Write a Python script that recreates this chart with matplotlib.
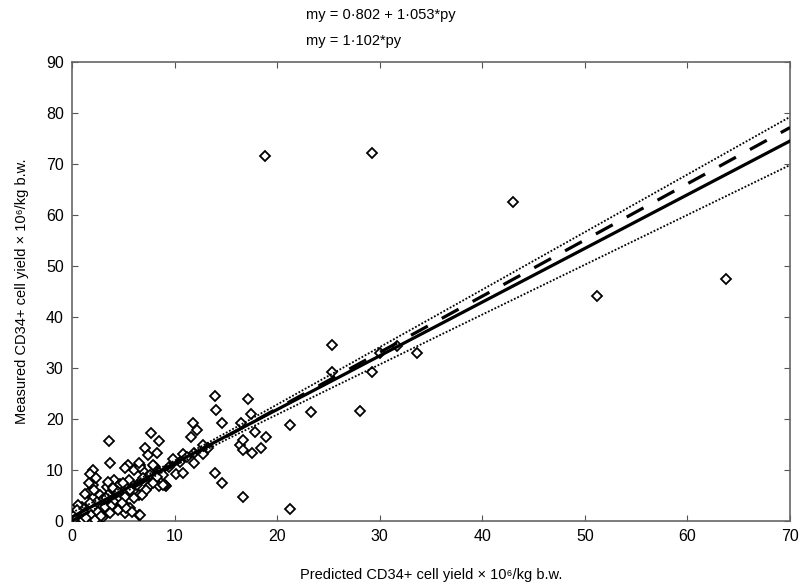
import numpy as np
import matplotlib.pyplot as plt

plt.rcParams['font.family'] = ['Liberation Sans', 'DejaVu Sans']

# Predicted vs measured CD34+ yield (x 10^6/kg b.w.)
predicted = [
    18.8, 29.2, 43.0, 51.2, 63.8,
    25.3, 25.3, 30.0, 29.2, 33.6, 31.7, 28.1, 23.3, 21.3,
    13.9, 14.0, 17.2, 17.45, 14.6, 16.5, 11.8, 12.15, 17.8, 18.9, 11.6,
    7.7, 8.5, 3.6, 7.1, 7.4, 8.3, 12.8, 11.9, 3.7, 2.0, 5.5, 6.6, 6.0, 6.95,
    8.1, 10.1, 10.8, 11.9, 13.9, 14.6, 2.0, 1.6, 2.1, 3.4, 4.1, 4.7, 5.6,
    2.7, 3.6, 4.6, 5.65, 5.2, 6.5, 7.5, 8.5, 9.2, 6.5, 7.2,
    16.7, 21.25, 6.6, 8.0, 9.1, 6.8, 8.9, 12.8, 16.4, 18.4, 17.5, 16.7, 10.85,
    13.3, 16.7,
    1.75, 2.3, 1.66, 1.3, 3.5, 4.0, 4.5, 3.5, 2.9, 2.4, 1.75, 0.95, 0.46,
    0.8, 1.27, 1.9, 2.56, 3.2, 3.9, 4.2, 4.7, 3.05, 3.7, 4.5, 5.0, 0.3,
    1.1, 2.2, 0.6,
    6.5, 7.9, 5.2, 5.0, 5.65, 6.3, 6.95, 7.6, 8.25, 8.9, 5.2, 6.0, 5.3,
    5.8, 6.6, 4.85, 7.9, 9.5, 10.5, 11.2, 9.8, 0.2, 0.5, 1.4, 2.8, 3.3,
]
measured = [
    71.5, 72.1, 62.6, 44.1, 47.5,
    34.5, 29.3, 33.0, 29.3, 33.0, 34.3, 21.6, 21.4, 18.8,
    24.6, 21.8, 24.0, 20.9, 19.3, 19.3, 19.2, 17.8, 17.5, 16.5, 16.4,
    17.3, 15.7, 15.7, 14.25, 12.9, 13.3, 14.9, 13.3, 11.4, 10.0, 11.0, 11.0, 10.0, 9.9,
    10.5, 9.15, 9.35, 11.4, 9.35, 7.4, 7.06, 5.4, 6.1, 6.7, 8.0, 7.25, 8.0,
    5.1, 4.8, 2.9, 2.5, 1.5, 1.2, 6.9, 6.9, 6.9, 5.1, 6.1,
    4.8, 2.35, 10.6, 10.8, 7.06, 5.1, 9.0, 13.1, 14.9, 14.4, 13.3, 15.9, 13.1,
    14.25, 13.9,
    9.2, 8.4, 7.4, 5.3, 7.7, 6.4, 5.75, 5.1, 4.1, 3.8, 3.5, 2.8, 1.8,
    0.85, 1.5, 1.2, 1.8, 2.8, 3.1, 4.1, 4.45, 0.85, 1.5, 2.15, 3.5, 0.5,
    0.2, 0.2, 3.1,
    11.3, 11.0, 10.3, 7.4, 6.1, 7.06, 8.4, 9.0, 8.7, 7.06, 4.8, 4.45, 2.5,
    1.8, 1.2, 3.5, 7.4, 10.5, 11.5, 12.5, 12.2, 1.2, 2.2, 0.6, 0.9, 4.6,
]

# fitted lines from the header
intercept, slope = 0.802, 1.053
slope0 = 1.102
# confidence band of the fit (half width = sqrt(a^2 + (b*(x - xm))^2))
band_a, band_b, band_xm = 0.5, 0.077, 9.0

x = np.linspace(0, 70, 200)
fit = intercept + slope * x
half = np.sqrt(band_a ** 2 + (band_b * (x - band_xm)) ** 2)

fig = plt.figure(figsize=(8.01, 5.83), dpi=100)
ax = fig.add_axes([0.0899, 0.1063, 0.8964, 0.7874])

ax.plot(predicted, measured, linestyle='none', marker='D', markersize=5.6,
        markerfacecolor='white', markeredgecolor='black', markeredgewidth=1.3, zorder=3)
ax.plot(x, fit, color='black', linewidth=2.3, zorder=4)
ax.plot(x, slope0 * x, color='black', linewidth=2.3, dashes=(6, 5), zorder=4)
ax.plot(x, fit + half, color='black', linewidth=1.3, linestyle=(0, (1, 1)), zorder=4)
ax.plot(x, fit - half, color='black', linewidth=1.3, linestyle=(0, (1, 1)), zorder=4)

ax.set_xlim(0, 70)
ax.set_ylim(0, 90)
ax.set_xticks(range(0, 71, 10))
ax.set_yticks(range(0, 91, 10))
ax.tick_params(direction='in', length=4, top=True, right=True, labelsize=11.5,
               color='#555555', pad=6)
for s in ax.spines.values():
    s.set_color('#666666')
    s.set_linewidth(1.2)

ax.set_xlabel('Predicted CD34+ cell yield \u00d7 10\u2076/kg b.w.', fontsize=10.5, labelpad=17)
ax.set_ylabel('Measured CD34+ cell yield \u00d7 10\u2076/kg b.w.', fontsize=10.5, labelpad=12)

fig.text(0.382, 0.974, 'my = 0\u00b7802 + 1\u00b7053*py', fontsize=10.5, va='center', ha='left')
fig.text(0.382, 0.930, 'my = 1\u00b7102*py', fontsize=10.5, va='center', ha='left')

fig.savefig('out.png', dpi=100)
